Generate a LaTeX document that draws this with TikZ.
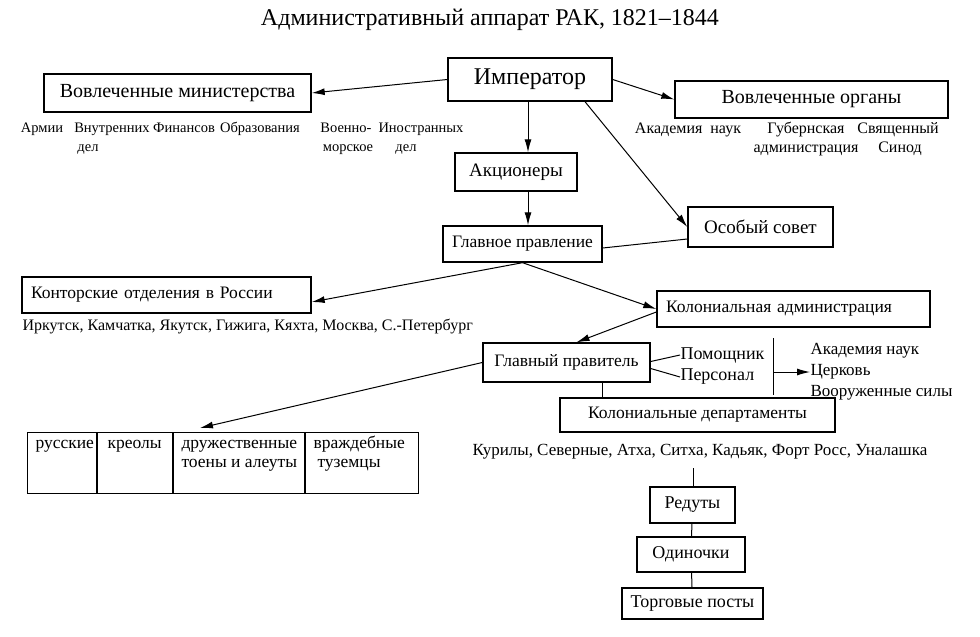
\documentclass[tikz,border=0pt]{standalone}
\usepackage{fontspec}
\setmainfont{Liberation Serif}
\usetikzlibrary{arrows.meta}
\newcommand{\fs}[1]{\fontsize{#1}{19}\selectfont}

\begin{document}
\begin{tikzpicture}[x=1pt, y=-1pt, >={Latex[length=13pt,width=7pt]}, line width=1pt,
  box/.style={draw, line width=1.4pt, inner sep=0pt, font=\fs{17.5}},
  lbox/.style={box, align=left, inner xsep=9pt},
  note/.style={inner sep=0pt, font=\fs{14.5}, anchor=base},
  cell/.style={inner sep=0pt, font=\fs{17.5}, anchor=base west},
  item/.style={inner sep=0pt, font=\fs{17}, anchor=west}]
\useasboundingbox (0,0) rectangle (980,637);

\node[font=\fs{24}] (title) at (490,20) {Административный аппарат РАК, 1821–1844};

% boxes
\node[box, font=\fs{24}, minimum width=164pt, minimum height=43pt] (imp) at (530,79.5) {Император};
\node[box, font=\fs{20}, minimum width=267pt, minimum height=38pt] (min) at (177.5,93) {Вовлеченные министерства};
\node[box, font=\fs{20}, minimum width=273pt, minimum height=37pt] (org) at (811.5,99.5) {Вовлеченные органы};
\node[box, font=\fs{19}, minimum width=122pt, minimum height=38pt] (akc) at (516,172) {Акционеры};
\node[box, minimum width=159pt, minimum height=36pt] (gp) at (522.5,244) {Главное правление};
\node[box, font=\fs{19}, minimum width=145pt, minimum height=40pt] (osob) at (760.5,227) {Особый совет};
\node[lbox, text width=271pt, minimum height=36pt] (kont) at (166.5,295) {Конторские отделения в России};
\node[lbox, text width=255pt, minimum height=36pt] (kadm) at (793.5,309) {Колониальная администрация};
\node[box, minimum width=167pt, minimum height=39pt] (glav) at (566.5,362.5) {Главный правитель};
\node[box, minimum width=275pt, minimum height=34pt] (kdep) at (697.5,415) {Колониальные департаменты};
\node[box, font=\fs{18}, minimum width=85pt, minimum height=36pt] (red) at (692.5,505) {Редуты};
\node[box, font=\fs{18}, minimum width=108pt, minimum height=35pt] (odin) at (691,554.5) {Одиночки};
\node[box, font=\fs{18}, minimum width=141pt, minimum height=31pt] (torg) at (692.5,603.5) {Торговые посты};
\node[box, minimum width=391pt, minimum height=61pt, anchor=north west] (tab) at (27,432) {};
\foreach \x in {97,173,305}
  \draw[line width=1.2pt] (\x,432) -- (\x,493);

% texts
\node[note] (arm) at (42,132) {Армии};
\node[note] (vnut) at (112,132) {Внутренних};
\node[note] (vnutdel) at (88,151) {дел};
\node[note] (fin) at (184,132) {Финансов};
\node[note] (obr) at (260,132) {Образования};
\node[note] (voen) at (346,132) {Военно-};
\node[note] (mor) at (348,151) {морское};
\node[note] (inos) at (421,132) {Иностранных};
\node[note] (inosdel) at (406,151) {дел};
\node[note, font=\fs{16}] (akad) at (688,133) {Академия\enspace наук};
\node[note, font=\fs{16}] (gub) at (806,133) {Губернская};
\node[note, font=\fs{16}] (adm) at (806,152) {администрация};
\node[note, font=\fs{16}] (svy) at (898,133) {Священный};
\node[note, font=\fs{16}] (sin) at (900,152) {Синод};
\node[note, font=\fs{16}, anchor=west] (gor) at (22,326) {Иркутск, Камчатка, Якутск, Гижига, Кяхта, Москва, С.-Петербург};
\node[item, font=\fs{18}] (pom) at (680,355) {Помощник};
\node[item, font=\fs{18}] (pers) at (680,377) {Персонал};
\node[item] (an) at (810,351) {Академия наук};
\node[item] (cer) at (810,372) {Церковь};
\node[item] (vs) at (810,393) {Вооруженные силы};
\node[note, font=\fs{17}, anchor=center] (kur) at (700,452) {Курилы, Северные, Атха, Ситха, Кадьяк, Форт Росс, Уналашка};
\node[cell] (rus) at (35,448) {русские};
\node[cell] (kre) at (107,448) {креолы};
\node[cell] (dru) at (181,448) {дружественные};
\node[cell] (toen) at (181,467) {тоены и алеуты};
\node[cell] (vra) at (313,448) {враждебные};
\node[cell] (tuz) at (317,467) {туземцы};

\coordinate (b1) at (773,338);
\coordinate (b2) at (773,395);
\coordinate (tabin) at (200,428);
\coordinate (kurdn) at (693,468);

% connectors
\draw[->] (imp.west) -- (min.east);
\draw[->] (imp.east) -- (org.west);
\draw[->] ([xshift=-2pt]imp.south) -- ([xshift=-2pt]imp.south |- akc.north);
\draw[->] ([xshift=-2pt]imp.south |- akc.south) -- ([xshift=-2pt]imp.south |- gp.north);
\draw[->] ([xshift=55pt]imp.south) -- (osob.west);
\draw ([yshift=-4pt]gp.east) -- ([yshift=-12pt]osob.west);
\draw[->] (gp.south) -- ([yshift=-7pt]kont.east);
\draw[->] (gp.south) -- (kadm.west);
\draw[->] ([yshift=-3pt]kadm.west) -- ([xshift=10pt]glav.north);
\draw ([yshift=1pt]glav.east) -- (pom.west);
\draw ([yshift=-6pt]glav.east) -- (pers.west);
\draw (b1) -- (b2);
\draw[->] (cer.west -| b1) -- (cer.west);
\draw ([xshift=36pt]glav.south) -- ([xshift=36pt]glav.south |- kdep.north);
\draw[->] (glav.west) -- (tabin);
\draw (kurdn) -- (kurdn |- red.north);
\draw (red) -- (odin);
\draw (odin) -- (torg);
\end{tikzpicture}
\end{document}
